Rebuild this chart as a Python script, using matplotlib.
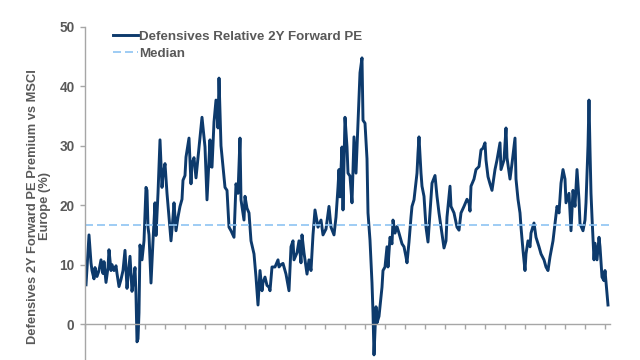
import matplotlib
matplotlib.use("Agg")
import matplotlib.pyplot as plt
from matplotlib.lines import Line2D

plt.rcParams['font.family'] = ['Liberation Sans', 'DejaVu Sans']

# years since start of series
years = [0.05, 0.2, 0.3, 0.35, 0.45, 0.5, 0.6, 0.7, 0.8, 0.9, 0.95, 1.05, 1.15, 1.2, 1.3, 1.35,
         1.45, 1.55, 1.6, 1.7, 1.8, 1.9, 2.0, 2.1, 2.15, 2.25, 2.35, 2.45, 2.5, 2.55, 2.6, 2.65,
         2.7, 2.75, 2.85, 2.95, 3.05, 3.1, 3.15, 3.2, 3.3, 3.4, 3.5, 3.55, 3.65, 3.75, 3.85, 3.9,
         4.0, 4.1, 4.2, 4.3, 4.4, 4.45, 4.55, 4.65, 4.75, 4.85, 4.9, 5.0, 5.05, 5.2, 5.3, 5.35,
         5.45, 5.55, 5.65, 5.75, 5.85, 6.0, 6.1, 6.25, 6.3, 6.35, 6.45, 6.55, 6.65, 6.7, 6.8, 6.9,
         7.0, 7.1, 7.2, 7.3, 7.45, 7.55, 7.65, 7.75, 7.8, 7.95, 8.0, 8.1, 8.2, 8.3, 8.45, 8.55,
         8.65, 8.75, 8.85, 8.9, 9.0, 9.1, 9.2, 9.25, 9.35, 9.5, 9.65, 9.7, 9.8, 9.9, 10.05, 10.2,
         10.3, 10.4, 10.45, 10.6, 10.7, 10.8, 10.85, 10.95, 11.1, 11.2, 11.3, 11.4, 11.5, 11.65,
         11.8, 11.9, 12.05, 12.2, 12.3, 12.45, 12.55, 12.65, 12.7, 12.75, 12.8, 12.85, 12.9, 13.0,
         13.1, 13.15, 13.25, 13.35, 13.45, 13.55, 13.65, 13.75, 13.85, 13.9, 14.0, 14.1, 14.15,
         14.25, 14.35, 14.4, 14.45, 14.55, 14.6, 14.7, 14.85, 14.9, 15.0, 15.1, 15.15, 15.25,
         15.35, 15.4, 15.5, 15.6, 15.7, 15.85, 15.95, 16.05, 16.1, 16.2, 16.3, 16.35, 16.45, 16.6,
         16.65, 16.7, 16.8, 16.85, 16.95, 17.05, 17.15, 17.25, 17.35, 17.5, 17.6, 17.7, 17.8,
         17.95, 18.05, 18.1, 18.25, 18.3, 18.45, 18.6, 18.7, 18.8, 18.95, 19.1, 19.2, 19.25, 19.3,
         19.45, 19.55, 19.7, 19.8, 19.9, 20.0, 20.05, 20.15, 20.25, 20.35, 20.5, 20.6, 20.75, 20.8,
         20.95, 21.05, 21.1, 21.25, 21.35, 21.5, 21.55, 21.65, 21.75, 21.8, 21.9, 22.0, 22.05,
         22.15, 22.25, 22.3, 22.45, 22.55, 22.7, 22.8, 22.95, 23.05, 23.15, 23.25, 23.4, 23.5,
         23.6, 23.7, 23.8, 23.9, 24.0, 24.05, 24.2, 24.3, 24.4, 24.5, 24.6, 24.7, 24.75, 24.9,
         25.0, 25.05, 25.15, 25.2, 25.25, 25.3, 25.35, 25.45, 25.5, 25.6, 25.7, 25.75, 25.85,
         25.95, 26.0, 26.1, 26.15]

premium = [6.6, 15.0, 10.3, 9.0, 7.6, 9.5, 8.0, 9.0, 10.8, 8.5, 10.5, 7.0, 9.5, 12.5, 9.0, 10.0,
           9.0, 9.8, 8.5, 6.3, 7.5, 9.0, 12.4, 6.0, 8.0, 11.4, 5.5, 8.0, 9.5, 4.9, -3.0, -2.5,
           1.9, 13.3, 10.8, 14.0, 23.0, 22.5, 16.3, 15.0, 6.9, 14.0, 20.4, 14.9, 22.0, 31.0, 23.0, 25.0,
           27.0, 22.0, 18.0, 14.0, 18.0, 20.4, 15.7, 18.0, 19.8, 21.0, 24.2, 25.0, 28.1, 31.3, 23.6, 27.0,
           28.0, 24.6, 28.0, 31.3, 34.8, 29.8, 20.9, 31.0, 26.5, 26.4, 34.0, 37.7, 33.0, 41.4, 30.0, 26.4,
           23.0, 22.5, 16.3, 15.7, 14.6, 23.6, 22.0, 31.3, 20.9, 17.5, 21.5, 19.5, 18.7, 14.0, 11.8, 7.9,
           3.2, 9.0, 5.6, 7.0, 7.9, 6.5, 6.2, 5.6, 9.6, 9.6, 10.8, 9.6, 10.0, 10.2, 8.4, 5.6,
           13.0, 14.0, 10.8, 12.0, 14.0, 10.3, 15.0, 12.0, 8.4, 10.8, 9.0, 15.0, 19.2, 16.3,
           17.5, 15.0, 16.0, 19.8, 16.3, 15.0, 18.0, 23.0, 26.0, 21.4, 26.0, 29.8, 19.2, 34.8,
           29.8, 25.4, 24.9, 20.4, 31.5, 25.4, 33.8, 42.3, 44.8, 34.3, 33.8, 27.8, 18.7,
           14.1, 6.9, 1.9, -5.2, 2.9, 0.2, 1.3, 6.2, 9.0, 9.6, 13.0, 9.6, 14.6,
           13.5, 17.5, 15.3, 16.4, 15.3, 13.5, 13.0, 11.3, 10.3, 13.8, 18.0, 19.8, 20.9, 25.4,
           28.8, 31.5, 25.4, 23.2, 21.5, 16.3, 13.8, 18.7, 23.7, 25.0, 21.5, 18.7, 16.3,
           12.8, 14.0, 18.0, 23.2, 19.8, 18.7, 16.3, 15.8, 18.7, 19.8, 21.0, 20.4, 19.0, 23.2,
           24.4, 26.0, 26.5, 29.3, 29.6, 30.5, 27.6, 24.8, 23.6, 22.5, 26.0, 27.6, 30.5, 26.0,
           27.6, 33.0, 28.0, 24.4, 27.0, 31.3, 24.4, 21.0, 18.7, 16.3, 12.4, 9.0, 11.8,
           14.0, 13.0, 15.3, 17.0, 14.6, 13.0, 11.8, 10.8, 9.6, 9.0, 11.3, 14.0, 16.9,
           19.8, 18.7, 23.7, 26.0, 24.4, 20.4, 22.0, 15.7, 22.5, 19.8, 26.0, 20.9, 16.9, 15.7,
           17.5, 20.4, 30.0, 37.7, 29.3, 22.0, 18.0, 10.8, 13.6, 10.8, 14.6, 13.0, 7.9,
           7.3, 9.0, 5.0, 3.2]

median_value = 16.6
n_year_ticks = 27
yticks = [0, 10, 20, 30, 40, 50]

series_label = "Defensives Relative 2Y Forward PE"
median_label = "Median"
ylabel = "Defensives 2Y Forward PE Premium vs MSCI\nEurope (%)"

navy = "#0d3a6c"
light_blue = "#8ec3f2"
gray_text = "#595959"
axis_gray = "#a6a6a6"

fig = plt.figure(figsize=(6.4, 3.6), dpi=100)
ax = fig.add_axes([85/640, 0, 525/640, 333/360])

ax.plot(years, premium, color=navy, lw=2.1, solid_joinstyle='round')
ax.axhline(median_value, color=light_blue, lw=1.2, dashes=(4.8, 2.4))

ax.set_xlim(0, 26.25)
ax.set_ylim(-6.06, 50)

for s in ['top', 'right']:
    ax.spines[s].set_visible(False)
ax.spines['left'].set_color(axis_gray)
ax.spines['left'].set_linewidth(1.0)
ax.spines['bottom'].set_position(('data', 0))
ax.spines['bottom'].set_color(axis_gray)
ax.spines['bottom'].set_linewidth(1.0)
ax.spines['bottom'].set_bounds(0, 26.25)

ax.set_xticks(range(n_year_ticks))
ax.set_xticklabels([])
ax.tick_params(axis='x', direction='out', length=3.5, width=1.0, color=axis_gray)
ax.set_yticks(yticks)
ax.set_yticklabels([str(v) for v in yticks], fontsize=9.8, fontweight='bold', color=gray_text)
ax.tick_params(axis='y', direction='out', length=3.6, width=1.0, color=axis_gray, pad=4)

ax.set_ylabel(ylabel, fontsize=9.3, fontweight='bold', color=gray_text, linespacing=1.05)
ax.yaxis.set_label_coords(-0.064, 0.462)

handles = [Line2D([], [], color=navy, lw=2.1),
           Line2D([], [], color=light_blue, lw=1.2, dashes=(4.8, 2.4))]
leg = ax.legend(handles, [series_label, median_label], loc='upper left',
                bbox_to_anchor=(0.0533, 0.99), frameon=False, handlelength=1.85,
                handletextpad=0.1, labelspacing=0.38, borderpad=0, borderaxespad=0,
                prop={'size': 9.6, 'weight': 'bold'})
for t in leg.get_texts():
    t.set_color(gray_text)

fig.savefig("out.png", dpi=100)
